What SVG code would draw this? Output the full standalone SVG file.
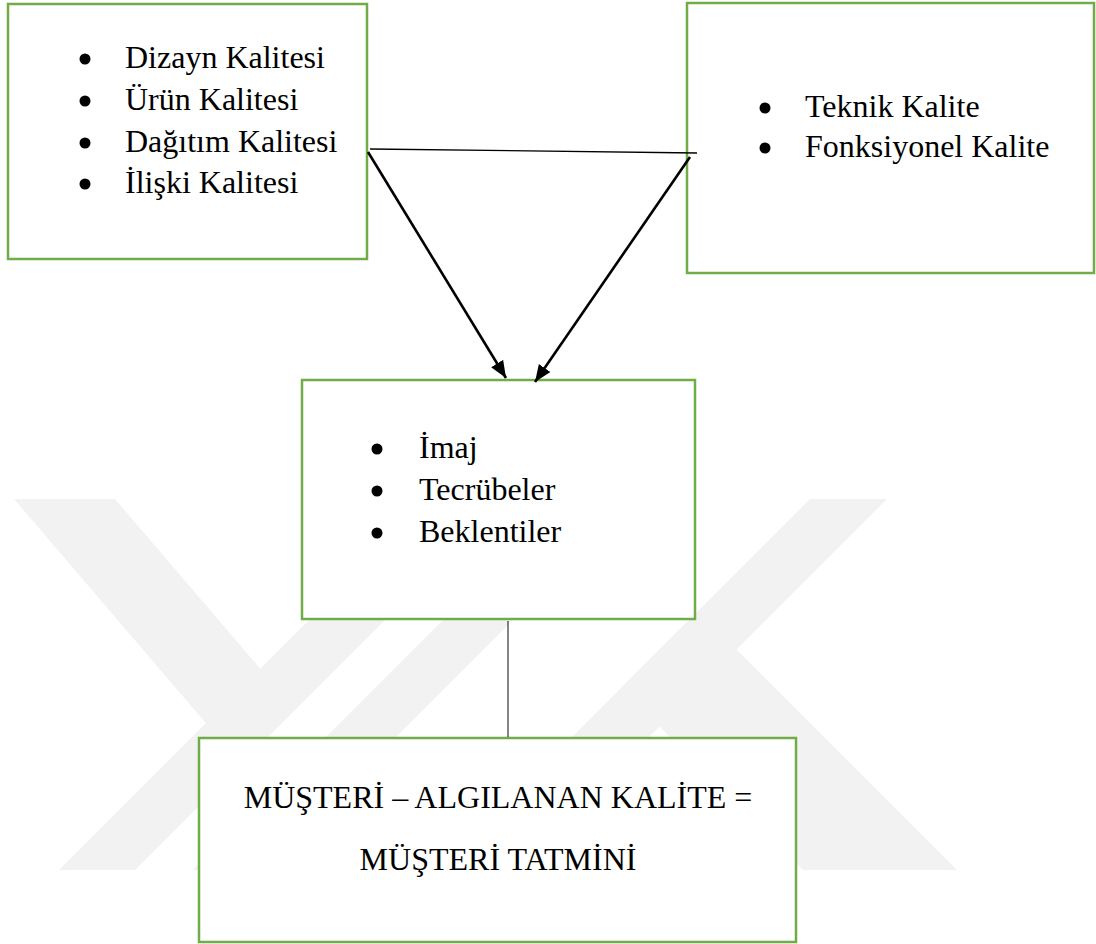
<svg xmlns="http://www.w3.org/2000/svg" width="1096" height="944" viewBox="0 0 1096 944">
  <style>
    .box { fill: #ffffff; stroke: #70AD47; stroke-width: 2.5; }
    .t { font-family: "Liberation Serif", "Times New Roman", serif; font-size: 32px; fill: #000000; }
    .c { text-anchor: middle; }
    .bul { fill: #000000; }
    .wm { fill: #f2f2f2; }
    .link { stroke: #000000; fill: none; }
  </style>
  <defs>
    <marker id="arrow" markerUnits="userSpaceOnUse" markerWidth="18" markerHeight="15" refX="17" refY="7" orient="auto">
      <path d="M0,0 L17,7 L0,14 z" fill="#000000"/>
    </marker>
  </defs>
  <rect width="1096" height="944" fill="#ffffff"/>
  <g id="watermark">
    <polygon class="wm" points="14,499 115,499 270,680 216,735"/>
    <polygon class="wm" points="59,870 135,870 506,499 430,499"/>
    <polygon class="wm" points="564,499 634,499 263,870 193,870"/>
    <polygon class="wm" points="810,499 887,499 516,870 439,870"/>
    <polygon class="wm" points="621,688 698,611 957,870 803,870"/>
  </g>
  <g id="node-boyutlar">
    <rect class="box" x="8" y="4" width="359" height="255"/>
    <circle class="bul" cx="85" cy="59" r="5.5"/>
    <circle class="bul" cx="85" cy="101" r="5.5"/>
    <circle class="bul" cx="85" cy="143" r="5.5"/>
    <circle class="bul" cx="85" cy="184" r="5.5"/>
    <text class="t" x="125" y="68">Dizayn Kalitesi</text>
    <text class="t" x="125" y="110">Ürün Kalitesi</text>
    <text class="t" x="125" y="152">Dağıtım Kalitesi</text>
    <text class="t" x="125" y="193">İlişki Kalitesi</text>
  </g>
  <g id="node-teknik">
    <rect class="box" x="687" y="3" width="407" height="270"/>
    <circle class="bul" cx="765" cy="108" r="5.5"/>
    <circle class="bul" cx="765" cy="148" r="5.5"/>
    <text class="t" x="805" y="117">Teknik Kalite</text>
    <text class="t" x="805" y="157">Fonksiyonel Kalite</text>
  </g>
  <g id="node-imaj">
    <rect class="box" x="302" y="380" width="393" height="239"/>
    <circle class="bul" cx="377" cy="449" r="5.5"/>
    <circle class="bul" cx="377" cy="491" r="5.5"/>
    <circle class="bul" cx="377" cy="533" r="5.5"/>
    <text class="t" x="419" y="458">İmaj</text>
    <text class="t" x="419" y="500">Tecrübeler</text>
    <text class="t" x="419" y="542">Beklentiler</text>
  </g>
  <g id="node-tatmin">
    <rect class="box" x="199" y="738" width="597" height="204"/>
    <text class="t c" x="498" y="808">MÜŞTERİ – ALGILANAN KALİTE =</text>
    <text class="t c" x="498" y="870">MÜŞTERİ TATMİNİ</text>
  </g>
  <g id="connectors">
    <line class="link" x1="370" y1="149" x2="697" y2="153" stroke-width="1.3"/>
    <line class="link" x1="368" y1="152" x2="506" y2="378" stroke-width="2.6" marker-end="url(#arrow)"/>
    <line class="link" x1="690" y1="157" x2="535" y2="382" stroke-width="2.6" marker-end="url(#arrow)"/>
    <line x1="508" y1="621" x2="508" y2="737" stroke="#333333" stroke-width="1.2"/>
  </g>
</svg>
